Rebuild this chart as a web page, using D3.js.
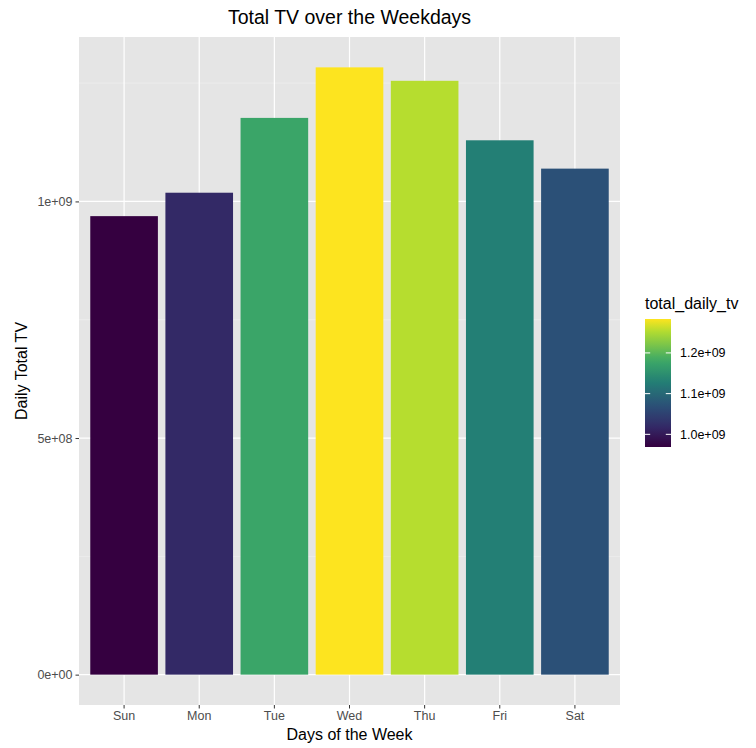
<!DOCTYPE html>
<html>
<head>
<meta charset="utf-8">
<script src="https://cdn.jsdelivr.net/npm/d3@7"></script>
<style>
  html, body { margin: 0; padding: 0; background: #fff; }
  svg { display: block; font-family: "Liberation Sans", Arial, Helvetica, sans-serif; }
</style>
</head>
<body>
<svg id="chart" width="756" height="748"></svg>
<script>
// ---- data ----
const days = ["Sun", "Mon", "Tue", "Wed", "Thu", "Fri", "Sat"];
const totalDailyTv = [0.9689e9, 1.0184e9, 1.1765e9, 1.2833e9, 1.2549e9, 1.1292e9, 1.0693e9];
const yTickValues = [0, 5e8, 1e9];
const yTickLabels = ["0e+00", "5e+08", "1e+09"];
const yMinorValues = [2.5e8, 7.5e8, 1.25e9];
const legendTickValues = [1.0e9, 1.1e9, 1.2e9];
const legendTickLabels = ["1.0e+09", "1.1e+09", "1.2e+09"];
const titleText = "Total TV over the Weekdays";
const xTitle = "Days of the Week";
const yTitle = "Daily Total TV";
const legendTitle = "total_daily_tv";

// ---- style: viridis-like palette as rendered in the reference ----
const paletteStops = [0, 0.16, 0.32, 0.51, 0.68, 0.91, 1];
const paletteColors = ["#350040", "#332a67", "#2b5077", "#237f75", "#3daa66", "#b6dd2f", "#fde41f"];
const palette = d3.scaleLinear().domain(paletteStops).range(paletteColors)
  .interpolate(d3.interpolateRgb).clamp(true);

// ---- layout ----
const panel = { left: 79, right: 620, top: 37, bottom: 705 };
const svg = d3.select("#chart");

const x = d3.scaleBand()
  .domain(days)
  .range([panel.left, panel.right])
  .paddingInner(0.1)
  .paddingOuter(0.15);

const maxV = d3.max(totalDailyTv);
const y = d3.scaleLinear()
  .domain([-0.05 * maxV, 1.05 * maxV])
  .range([panel.bottom, panel.top]);

const [minV, maxV2] = d3.extent(totalDailyTv);
const tScale = d3.scaleLinear().domain([minV, maxV2]).range([0, 1]);
const color = v => palette(tScale(v));

// panel background
svg.append("rect")
  .attr("x", panel.left).attr("y", panel.top)
  .attr("width", panel.right - panel.left)
  .attr("height", panel.bottom - panel.top)
  .attr("fill", "#e5e5e5");

// minor grid
svg.append("g").selectAll("line").data(yMinorValues).join("line")
  .attr("x1", panel.left).attr("x2", panel.right)
  .attr("y1", d => y(d)).attr("y2", d => y(d))
  .attr("stroke", "#f2f2f2").attr("stroke-width", 0.6);

// major grid
svg.append("g").selectAll("line").data(yTickValues).join("line")
  .attr("x1", panel.left).attr("x2", panel.right)
  .attr("y1", d => y(d)).attr("y2", d => y(d))
  .attr("stroke", "#fff").attr("stroke-width", 1.2);
svg.append("g").selectAll("line").data(days).join("line")
  .attr("x1", d => x(d) + x.bandwidth() / 2).attr("x2", d => x(d) + x.bandwidth() / 2)
  .attr("y1", panel.top).attr("y2", panel.bottom)
  .attr("stroke", "#fff").attr("stroke-width", 1.2);

// bars
svg.append("g").selectAll("rect").data(days).join("rect")
  .attr("x", d => x(d))
  .attr("width", x.bandwidth())
  .attr("y", (d, i) => y(totalDailyTv[i]))
  .attr("height", (d, i) => y(0) - y(totalDailyTv[i]))
  .attr("fill", (d, i) => color(totalDailyTv[i]));

// x axis
const xAxis = d3.axisBottom(x).tickSize(3.5).tickPadding(3);
const gx = svg.append("g").attr("transform", `translate(0,${panel.bottom})`).call(xAxis);
gx.select(".domain").remove();
gx.selectAll(".tick line").attr("stroke", "#333").attr("stroke-width", 1);
gx.selectAll(".tick text").attr("fill", "#4d4d4d").attr("font-size", 12.5)
  .attr("font-family", "Liberation Sans, Arial, sans-serif");

// y axis
const yAxis = d3.axisLeft(y).tickValues(yTickValues)
  .tickFormat((d, i) => yTickLabels[i]).tickSize(3.5).tickPadding(3);
const gy = svg.append("g").attr("transform", `translate(${panel.left},0)`).call(yAxis);
gy.select(".domain").remove();
gy.selectAll(".tick line").attr("stroke", "#333").attr("stroke-width", 1);
gy.selectAll(".tick text").attr("fill", "#4d4d4d").attr("font-size", 12.5)
  .attr("font-family", "Liberation Sans, Arial, sans-serif");

// titles
svg.append("text")
  .attr("x", (panel.left + panel.right) / 2).attr("y", 24)
  .attr("text-anchor", "middle").attr("font-size", 19.5).attr("fill", "#000")
  .text(titleText);
svg.append("text")
  .attr("x", (panel.left + panel.right) / 2).attr("y", 740)
  .attr("text-anchor", "middle").attr("font-size", 16).attr("fill", "#000")
  .text(xTitle);
svg.append("text")
  .attr("transform", `translate(27,${(panel.top + panel.bottom) / 2}) rotate(-90)`)
  .attr("text-anchor", "middle").attr("font-size", 16).attr("fill", "#000")
  .text(yTitle);

// legend
const lg = { x: 645, y: 319, w: 26, h: 128 };
const defs = svg.append("defs");
const grad = defs.append("linearGradient").attr("id", "vgrad")
  .attr("x1", "0").attr("y1", "1").attr("x2", "0").attr("y2", "0");
d3.range(0, 1.0001, 0.05).forEach(t => {
  grad.append("stop").attr("offset", t).attr("stop-color", palette(t));
});
svg.append("text")
  .attr("x", lg.x).attr("y", 309)
  .attr("font-size", 16).attr("fill", "#000")
  .text(legendTitle);
svg.append("rect")
  .attr("x", lg.x).attr("y", lg.y).attr("width", lg.w).attr("height", lg.h)
  .attr("fill", "url(#vgrad)");
const ly = d3.scaleLinear().domain([minV, maxV2]).range([lg.y + lg.h, lg.y]);
const lt = svg.append("g");
legendTickValues.forEach((v, i) => {
  lt.append("line").attr("x1", lg.x).attr("x2", lg.x + lg.w / 5)
    .attr("y1", ly(v)).attr("y2", ly(v)).attr("stroke", "#fff").attr("stroke-width", 1);
  lt.append("line").attr("x1", lg.x + lg.w * 4 / 5).attr("x2", lg.x + lg.w)
    .attr("y1", ly(v)).attr("y2", ly(v)).attr("stroke", "#fff").attr("stroke-width", 1);
  lt.append("text").attr("x", lg.x + lg.w + 9).attr("y", ly(v))
    .attr("dy", "0.35em").attr("font-size", 12.5).attr("fill", "#000")
    .text(legendTickLabels[i]);
});
</script>
</body>
</html>
